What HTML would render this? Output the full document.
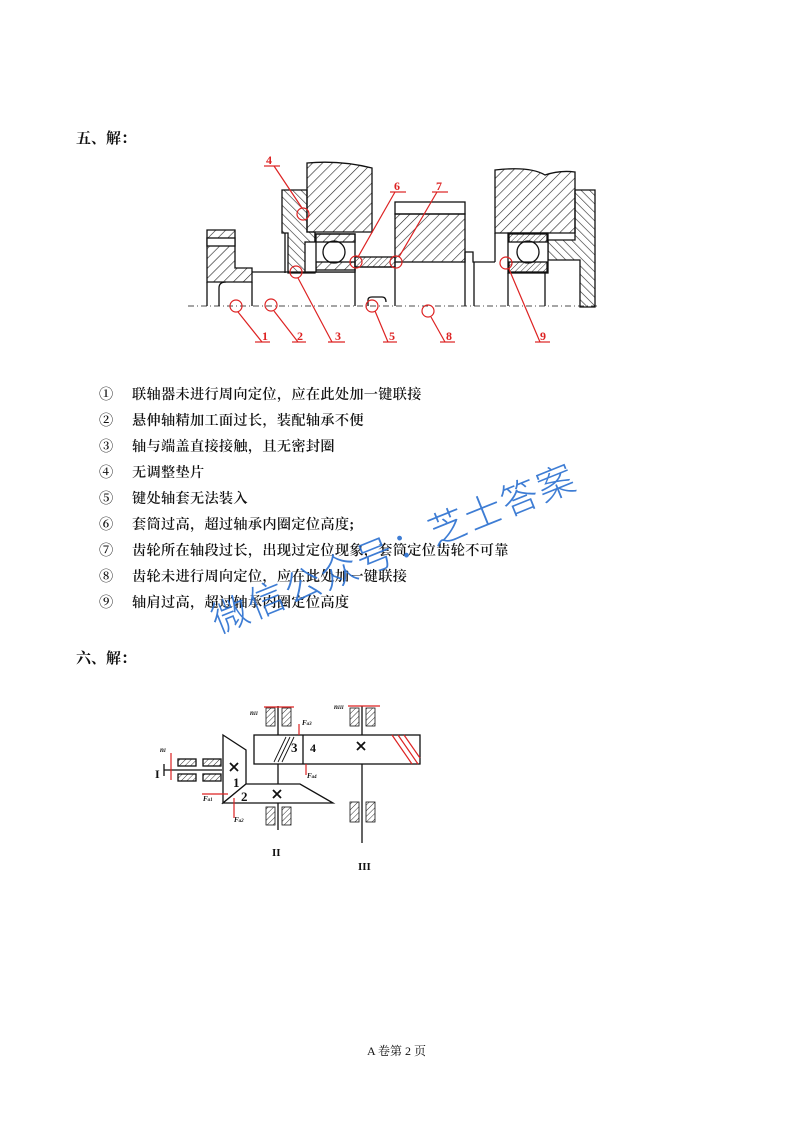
<!DOCTYPE html>
<html><head><meta charset="utf-8"><style>
html,body{margin:0;padding:0;background:#fff}
body{width:793px;height:1122px;position:relative;overflow:hidden;font-family:"Liberation Serif","Noto Serif CJK SC",serif;color:#111}
.h{position:absolute;left:76px;font-size:15px;font-weight:bold}
.l{position:absolute;left:99px;font-size:14.2px;letter-spacing:0.3px;line-height:18px;white-space:nowrap;font-weight:600}
.l span{display:inline-block;width:33px}
.wm{position:absolute;left:212px;top:594px;line-height:50px;font-family:"Noto Sans CJK SC",sans-serif;font-size:37px;color:#2a6fd0;transform:rotate(-22deg);transform-origin:0 50%;white-space:nowrap;letter-spacing:2px;font-weight:300;opacity:.9}
</style></head><body>
<div class="h" style="top:127px">五、解：</div>
<svg style="position:absolute;left:0;top:0" width="793" height="1122">
<defs>
<pattern id="hx" width="7" height="7" patternUnits="userSpaceOnUse" patternTransform="rotate(45)"><line x1="0" y1="0" x2="0" y2="7" stroke="#222" stroke-width="1.2"/></pattern>
<pattern id="hy" width="6" height="6" patternUnits="userSpaceOnUse" patternTransform="rotate(-45)"><line x1="0" y1="0" x2="0" y2="6" stroke="#222" stroke-width="1.2"/></pattern>
<pattern id="hs" width="4" height="4" patternUnits="userSpaceOnUse" patternTransform="rotate(45)"><line x1="0" y1="0" x2="0" y2="4" stroke="#333" stroke-width="1"/></pattern>
</defs>
<g stroke="#111" stroke-width="1.3" fill="none">
<line x1="188" y1="306" x2="600" y2="306" stroke-dasharray="6,3,1,3" stroke-width="0.8"/>
<path d="M207 230 H235 V268 H252 V282 H207 Z" fill="url(#hx)"/>
<rect x="207" y="238" width="28" height="8" fill="#fff"/>
<line x1="207" y1="282" x2="207" y2="306"/><line x1="252" y1="282" x2="252" y2="306"/>
<path d="M219 306 V288 Q219 282 226 282"/>
<line x1="252" y1="272" x2="355" y2="272"/>
<line x1="355" y1="267" x2="395" y2="267"/>
<line x1="355" y1="267" x2="355" y2="306"/>
<line x1="395" y1="262" x2="395" y2="306"/>
<line x1="465" y1="252" x2="465" y2="306"/>
<path d="M465 252 H473 V262 H495"/>
<line x1="474" y1="262" x2="474" y2="306"/>
<path d="M368 306 V300 Q368 297 372 297 H382 Q386 297 386 302"/>
<path d="M282 190 H307 V232 H315 V273 H288 V233 H282 Z" fill="url(#hy)"/>
<line x1="285" y1="233" x2="285" y2="273"/>
<path d="M307 163 Q340 160 372 168 V232 H307 Z" fill="url(#hx)"/>
<rect x="315" y="234" width="40" height="38" fill="#fff"/>
<rect x="316" y="234" width="39" height="8" fill="url(#hx)"/>
<rect x="316" y="262" width="39" height="8" fill="url(#hx)"/>
<circle cx="334" cy="252" r="11"/>
<rect x="305" y="242" width="11" height="30" fill="#fff"/>
<rect x="355" y="257" width="40" height="10" fill="url(#hs)"/>
<rect x="395" y="202" width="70" height="12"/>
<rect x="395" y="214" width="70" height="48" fill="url(#hx)"/>
<path d="M495 170 Q530 166 545 175 Q560 170 575 172 V233 H495 Z" fill="url(#hx)"/>
<path d="M575 190 H595 V307 H580 V260 H548 V240 H575 Z" fill="url(#hy)"/>
<rect x="508" y="233" width="40" height="40" fill="#fff"/>
<rect x="509" y="234" width="38" height="8" fill="url(#hs)"/>
<rect x="509" y="262" width="38" height="10" fill="url(#hs)"/>
<circle cx="528" cy="252" r="11"/>
<line x1="495" y1="233" x2="495" y2="262"/>
<line x1="508" y1="273" x2="508" y2="306"/>
<line x1="545" y1="273" x2="545" y2="306"/>
</g>
<g stroke="#d22" stroke-width="1.2" fill="none">
<circle cx="236" cy="306" r="6"/><line x1="238" y1="312" x2="262" y2="342"/><line x1="255" y1="342" x2="270" y2="342"/>
<circle cx="271" cy="305" r="6"/><line x1="274" y1="311" x2="298" y2="342"/><line x1="292" y1="342" x2="306" y2="342"/>
<circle cx="296" cy="272" r="6"/><line x1="298" y1="278" x2="332" y2="342"/><line x1="328" y1="342" x2="345" y2="342"/>
<circle cx="303" cy="214" r="6"/><line x1="302" y1="208" x2="274" y2="166"/><line x1="264" y1="166" x2="280" y2="166"/>
<circle cx="372" cy="306" r="6"/><line x1="375" y1="311" x2="388" y2="342"/><line x1="383" y1="342" x2="397" y2="342"/>
<circle cx="428" cy="311" r="6"/><line x1="431" y1="317" x2="445" y2="342"/><line x1="440" y1="342" x2="455" y2="342"/>
<circle cx="356" cy="262" r="6"/><line x1="358" y1="257" x2="395" y2="192"/><line x1="390" y1="192" x2="406" y2="192"/>
<circle cx="396" cy="262" r="6"/><line x1="399" y1="257" x2="437" y2="192"/><line x1="432" y1="192" x2="448" y2="192"/>
<circle cx="506" cy="263" r="6"/><line x1="509" y1="269" x2="540" y2="342"/><line x1="535" y1="342" x2="550" y2="342"/>
</g>
<g fill="#d22" font-size="12" font-weight="bold" font-family="Liberation Serif,serif">
<text x="262" y="340">1</text><text x="297" y="340">2</text><text x="335" y="340">3</text><text x="266" y="164">4</text>
<text x="389" y="340">5</text><text x="394" y="190">6</text><text x="436" y="190">7</text><text x="446" y="340">8</text><text x="540" y="340">9</text>
</g>

<g stroke="#111" stroke-width="1.3" fill="none">
<line x1="164" y1="770" x2="222" y2="770"/><line x1="164" y1="764" x2="164" y2="776"/>
<rect x="178" y="759" width="18" height="7" fill="url(#hs)"/><rect x="203" y="759" width="18" height="7" fill="url(#hs)"/>
<rect x="178" y="774" width="18" height="7" fill="url(#hs)"/><rect x="203" y="774" width="18" height="7" fill="url(#hs)"/>
<path d="M223 735 L246 750 V784 L223 803 Z" fill="#fff"/>
<path d="M246 784 H300 L333 803 H223 Z" fill="#fff"/>
<rect x="254" y="735" width="166" height="29" fill="#fff"/>
<line x1="303" y1="735" x2="303" y2="764"/>
<line x1="278" y1="764" x2="278" y2="784"/>
<line x1="278" y1="706" x2="278" y2="735"/><line x1="278" y1="803" x2="278" y2="830"/>
<line x1="362" y1="706" x2="362" y2="735"/><line x1="362" y1="764" x2="362" y2="843"/>
<path d="M274 762 L286 737 M278 762 L290 737 M282 762 L294 737" stroke-width="0.9"/>
</g>
<g fill="url(#hs)" stroke="#111" stroke-width="0.8">
<rect x="266" y="708" width="9" height="18"/><rect x="282" y="708" width="9" height="18"/>
<rect x="266" y="807" width="9" height="18"/><rect x="282" y="807" width="9" height="18"/>
<rect x="350" y="708" width="9" height="18"/><rect x="366" y="708" width="9" height="18"/>
<rect x="350" y="802" width="9" height="20"/><rect x="366" y="802" width="9" height="20"/>
</g>
<g stroke="#111" stroke-width="1.8">
<path d="M230 763 l8 8 M238 763 l-8 8 M273 790 l8 8 M281 790 l-8 8 M357 742 l8 8 M365 742 l-8 8"/>
</g>
<g stroke="#d22" stroke-width="1.2" fill="none">
<line x1="392" y1="735" x2="412" y2="764"/><line x1="398" y1="735" x2="418" y2="764"/><line x1="404" y1="735" x2="420" y2="758"/>
<line x1="171" y1="780" x2="171" y2="753"/><line x1="202" y1="794" x2="228" y2="794"/>
<line x1="234" y1="798" x2="234" y2="818"/><line x1="299" y1="735" x2="299" y2="724"/>
<line x1="306" y1="764" x2="306" y2="775"/><line x1="264" y1="707" x2="294" y2="707"/>
<line x1="348" y1="706" x2="380" y2="706"/>
</g>
<g font-family="Liberation Serif,serif" font-weight="bold" fill="#111">
<text x="155" y="778" font-size="12">I</text><text x="233" y="787" font-size="13">1</text>
<text x="241" y="801" font-size="13">2</text><text x="291" y="752" font-size="13">3</text>
<text x="310" y="752" font-size="12">4</text><text x="272" y="856" font-size="11">II</text>
<text x="358" y="870" font-size="11">III</text>
<text x="160" y="752" font-size="7" font-style="italic">n<tspan font-size="5">I</tspan></text>
<text x="250" y="715" font-size="7" font-style="italic">n<tspan font-size="5">II</tspan></text>
<text x="334" y="709" font-size="7" font-style="italic">n<tspan font-size="5">III</tspan></text>
<text x="203" y="801" font-size="7" font-style="italic">F<tspan font-size="5">a1</tspan></text>
<text x="234" y="822" font-size="7" font-style="italic">F<tspan font-size="5">a2</tspan></text>
<text x="302" y="725" font-size="7" font-style="italic">F<tspan font-size="5">a3</tspan></text>
<text x="307" y="778" font-size="7" font-style="italic">F<tspan font-size="5">a4</tspan></text>
</g>
</svg>
<div class="l" style="top:386px"><span>①</span>联轴器未进行周向定位，应在此处加一键联接</div>
<div class="l" style="top:412px"><span>②</span>悬伸轴精加工面过长，装配轴承不便</div>
<div class="l" style="top:438px"><span>③</span>轴与端盖直接接触，且无密封圈</div>
<div class="l" style="top:464px"><span>④</span>无调整垫片</div>
<div class="l" style="top:490px"><span>⑤</span>键处轴套无法装入</div>
<div class="l" style="top:516px"><span>⑥</span>套筒过高，超过轴承内圈定位高度;</div>
<div class="l" style="top:542px"><span>⑦</span>齿轮所在轴段过长，出现过定位现象，套筒定位齿轮不可靠</div>
<div class="l" style="top:568px"><span>⑧</span>齿轮未进行周向定位，应在此处加一键联接</div>
<div class="l" style="top:594px"><span>⑨</span>轴肩过高，超过轴承内圈定位高度</div>
<div class="wm">微信公众号：芝士答案</div>
<div class="h" style="top:647px">六、解：</div>
<div style="position:absolute;left:0;width:793px;top:1042px;text-align:center;font-size:12px">A 卷第 2 页</div>
</body></html>
